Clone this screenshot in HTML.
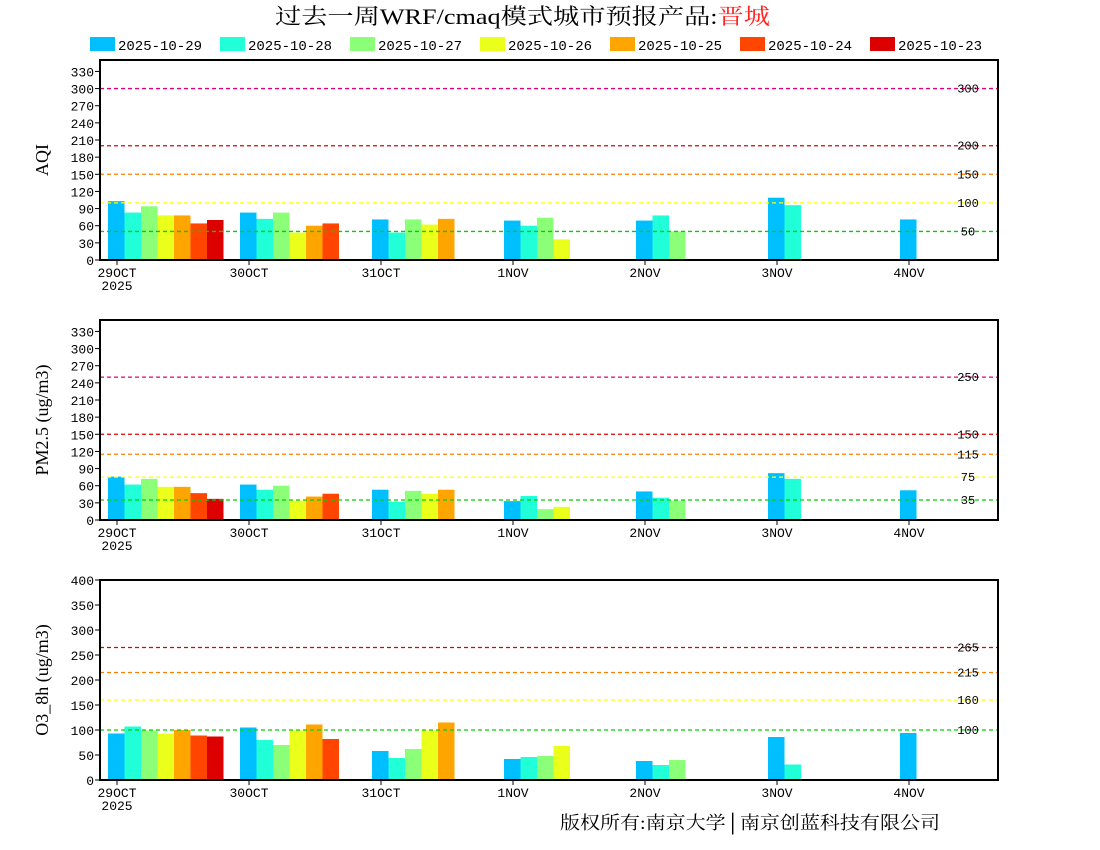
<!DOCTYPE html><html><head><meta charset="utf-8"><style>body{margin:0;background:#fff}svg{display:block}</style></head><body>
<svg id="s" width="1100" height="850" xmlns="http://www.w3.org/2000/svg" font-family="Liberation Mono, monospace">
<text x="275" y="24" textLength="495" lengthAdjust="spacingAndGlyphs" font-size="22" font-family="Liberation Serif,Noto Serif CJK SC,serif">过去一周WRF/cmaq模式城市预报产品:<tspan fill="#ff2020">晋城</tspan></text>
<text x="560" y="829" textLength="380" lengthAdjust="spacingAndGlyphs" font-size="18" font-family="Liberation Serif,Noto Serif CJK SC,serif">版权所有:南京大学│南京创蓝科技有限公司</text>
</svg>
<script>
const s=document.getElementById('s');const NS='http://www.w3.org/2000/svg';
function el(t,a,txt){const e=document.createElementNS(NS,t);for(const k in a)e.setAttribute(k,a[k]);if(txt!=null)e.textContent=txt;s.appendChild(e);return e;}
const cols=['#00bfff','#20ffd8','#8cff78','#eaff1a','#ffa500','#ff4500','#dd0000'];
const dates=['2025-10-29','2025-10-28','2025-10-27','2025-10-26','2025-10-25','2025-10-24','2025-10-23'];
dates.forEach((d,i)=>{const x=90+i*130;el('rect',{x:x,y:37,width:25,height:14,fill:cols[i]});el('text',{x:x+28,y:50,'font-size':14},d);});
const panels=[
{top:60,max:350,step:30,lab:'AQI',th:[[300,'#e0007f'],[200,'#e00000'],[150,'#ff8000'],[100,'#ffff00'],[50,'#00d000']],
d:[[103,83,94,78,78,64,70],[83,72,83,48,60,64],[71,48,71,62,72],[69,60,74,36],[69,78,50],[109,96],[71]]},
{top:320,max:350,step:30,lab:'PM2.5 (ug/m3)',th:[[250,'#e0007f'],[150,'#e00000'],[115,'#ff8000'],[75,'#ffff00'],[35,'#00d000']],
d:[[76,62,72,58,58,47,37],[62,53,60,34,41,46],[53,32,51,46,53],[33,42,19,23],[50,39,34],[82,72],[52]]},
{top:580,max:400,step:50,lab:'O3_8h (ug/m3)',th:[[265,'#e00000'],[215,'#ff8000'],[160,'#ffff00'],[100,'#00d000']],
d:[[93,107,99,93,100,89,87],[105,80,70,99,111,82],[58,44,62,99,115],[42,46,48,68],[38,30,40],[86,31],[94]]}];
const days=['29OCT','30OCT','31OCT','1NOV','2NOV','3NOV','4NOV'];
panels.forEach(p=>{const L=100,R=998,T=p.top,B=T+200;const y=v=>B-v/p.max*200;
 p.d.forEach((g,di)=>g.forEach((v,bi)=>{const x=108+di*132+bi*16.5;el('rect',{x:x,y:y(v),width:16.5,height:B-y(v),fill:cols[bi]});}));
 p.th.forEach(([v,c])=>{el('line',{x1:L,x2:R,y1:y(v),y2:y(v),stroke:c,'stroke-width':1.3,'stroke-dasharray':'4,3'});el('text',{x:968,y:y(v)+4,'font-size':12,'text-anchor':'middle'},v);});
 for(let v=0;v<=p.max;v+=p.step){if(p.max==350&&v>330)break;el('line',{x1:L-5,x2:L,y1:y(v),y2:y(v),stroke:'#000'});el('text',{x:L-6,y:y(v)+5,'font-size':13,'text-anchor':'end'},v);}
 days.forEach((d,i)=>{const x=117+i*132;el('line',{x1:x,x2:x,y1:B,y2:B+5,stroke:'#000'});el('text',{x:x,y:B+17,'font-size':13,'text-anchor':'middle'},d);});
 el('text',{x:117,y:B+30,'font-size':13,'text-anchor':'middle'},'2025');
 el('rect',{x:L,y:T,width:R-L,height:200,fill:'none',stroke:'#000','stroke-width':2});
 el('text',{x:0,y:0,'font-size':18,'text-anchor':'middle',transform:`translate(48,${T+100}) rotate(-90)`,'font-family':'Liberation Serif,serif'},p.lab);
});
</script></body></html>
